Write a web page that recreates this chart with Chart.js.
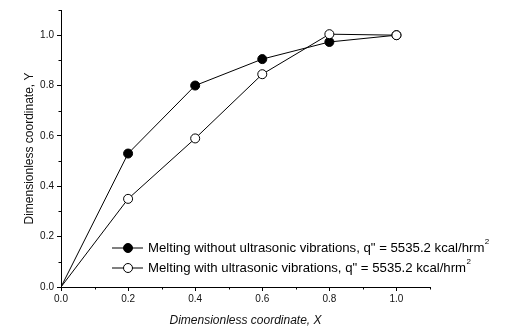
<!DOCTYPE html>
<html>
<head>
<meta charset="utf-8">
<script src="https://cdn.jsdelivr.net/npm/chart.js@4.4.0/dist/chart.umd.min.js"></script>
<style>
  html, body { margin: 0; padding: 0; background: #fff; }
  #wrap { width: 514px; height: 332px; }
</style>
</head>
<body>
<div id="wrap"><canvas id="chart" width="514" height="332"></canvas></div>
<script>
// Dimensionless coordinate X (shared by both series)
const xValues = [0.0, 0.2, 0.4, 0.6, 0.8, 1.0];
// Melting without ultrasonic vibrations (filled circles)
const yWithout = [0.0, 0.53, 0.80, 0.905, 0.973, 1.0];
// Melting with ultrasonic vibrations (open circles)
const yWith = [0.0, 0.35, 0.59, 0.845, 1.004, 1.0];

const seriesLabels = [
  'Melting without ultrasonic vibrations, q" = 5535.2 kcal/hrm',
  'Melting with ultrasonic vibrations, q" = 5535.2 kcal/hrm'
];
const majorTicks = [0.0, 0.2, 0.4, 0.6, 0.8, 1.0];
const minorTicks = [0.1, 0.3, 0.5, 0.7, 0.9, 1.1];
const axisMax = 1.1;

const FONT = '"Liberation Sans", Arial, sans-serif';

function toPoints(ys) {
  return xValues.map((x, i) => ({ x: x, y: ys[i] }));
}
// no marker at the origin
const radii = xValues.map(x => (x === 0 ? 0 : 4.5));

// Short minor tick marks, drawn outward like the majors
const minorTickPlugin = {
  id: 'minorTicks',
  afterDraw(chart) {
    const ctx = chart.ctx;
    const xs = chart.scales.x, ys = chart.scales.y;
    ctx.save();
    ctx.strokeStyle = '#000';
    ctx.lineWidth = 1;
    ctx.beginPath();
    minorTicks.forEach(v => {
      const px = Math.round(xs.getPixelForValue(v)) + 0.5;
      ctx.moveTo(px, xs.top);
      ctx.lineTo(px, xs.top + 2.5);
      const py = Math.round(ys.getPixelForValue(v)) + 0.5;
      ctx.moveTo(ys.right, py);
      ctx.lineTo(ys.right - 2.5, py);
    });
    ctx.stroke();
    ctx.restore();
  }
};

// Legend inside the plot, with superscript 2
const legendPlugin = {
  id: 'insideLegend',
  afterDraw(chart) {
    const ctx = chart.ctx;
    const area = chart.chartArea;
    const x0 = area.left + 51;
    const rows = [area.bottom - 39, area.bottom - 19];
    const byRow = [chart.data.datasets[1], chart.data.datasets[0]];
    ctx.save();
    byRow.forEach((ds, i) => {
      const y = rows[i];
      ctx.strokeStyle = '#000';
      ctx.lineWidth = 1;
      ctx.beginPath();
      ctx.moveTo(x0, y);
      ctx.lineTo(x0 + 31, y);
      ctx.stroke();
      ctx.beginPath();
      ctx.arc(x0 + 16, y, 4.5, 0, Math.PI * 2);
      ctx.fillStyle = ds.pointBackgroundColor;
      ctx.fill();
      ctx.stroke();
      ctx.fillStyle = '#000';
      ctx.font = '13.2px ' + FONT;
      ctx.textBaseline = 'middle';
      ctx.textAlign = 'left';
      const tx = x0 + 36;
      ctx.fillText(ds.label, tx, y);
      const w = ctx.measureText(ds.label).width;
      ctx.font = '8px ' + FONT;
      ctx.fillText('2', tx + w + 0.5, y - 6);
    });
    ctx.restore();
  }
};

new Chart(document.getElementById('chart'), {
  type: 'scatter',
  data: {
    // open circles listed first so they are drawn on top where points overlap
    datasets: [
      {
        label: seriesLabels[1],
        data: toPoints(yWith),
        showLine: true,
        borderColor: '#000',
        borderWidth: 1,
        pointRadius: radii,
        pointBackgroundColor: '#fff',
        pointBorderColor: '#000',
        pointBorderWidth: 1
      },
      {
        label: seriesLabels[0],
        data: toPoints(yWithout),
        showLine: true,
        borderColor: '#000',
        borderWidth: 1,
        pointRadius: radii,
        pointBackgroundColor: '#000',
        pointBorderColor: '#000',
        pointBorderWidth: 1
      }
    ]
  },
  options: {
    responsive: false,
    animation: false,
    layout: { padding: { top: 10, right: 84, left: 0, bottom: 0 } },
    plugins: {
      legend: { display: false },
      tooltip: { enabled: false }
    },
    scales: {
      x: {
        type: 'linear',
        min: 0,
        max: axisMax,
        afterBuildTicks: s => { s.ticks = majorTicks.map(v => ({ value: v })); },
        afterFit: s => { s.height = 45; },
        border: { color: '#000', width: 1 },
        grid: { drawOnChartArea: false, drawTicks: true, tickLength: 4, color: '#000' },
        ticks: {
          color: '#111',
          font: { family: FONT, size: 10 },
          padding: 2,
          maxRotation: 0,
          callback: v => v.toFixed(1)
        },
        title: {
          display: true,
          text: 'Dimensionless coordinate, X',
          color: '#111',
          font: { family: FONT, size: 12, style: 'italic' },
          padding: { top: 0, bottom: 4 }
        }
      },
      y: {
        type: 'linear',
        min: 0,
        max: axisMax,
        afterBuildTicks: s => { s.ticks = majorTicks.map(v => ({ value: v })); },
        afterFit: s => { s.width = 61; },
        border: { color: '#000', width: 1 },
        grid: { drawOnChartArea: false, drawTicks: true, tickLength: 4, color: '#000' },
        ticks: {
          color: '#111',
          font: { family: FONT, size: 10 },
          padding: 3,
          callback: v => v.toFixed(1)
        },
        title: {
          display: true,
          text: 'Dimensionless coordinate, Y',
          color: '#111',
          font: { family: FONT, size: 12 },
          padding: { top: 22, bottom: 0 }
        }
      }
    }
  },
  plugins: [minorTickPlugin, legendPlugin]
});
</script>
</body>
</html>
